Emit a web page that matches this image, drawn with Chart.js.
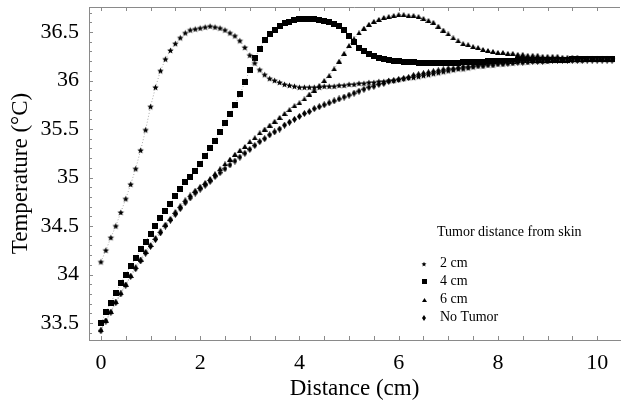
<!DOCTYPE html>
<html><head><meta charset="utf-8">
<script src="https://cdn.jsdelivr.net/npm/chart.js@4/dist/chart.umd.min.js"></script>
<style>html,body{margin:0;padding:0;background:#fff;overflow:hidden}#wrap{position:relative;width:624px;height:403px}</style>
</head><body><div id="wrap"><canvas id="c" width="624" height="403"></canvas></div>
<script>
const distance = [0,0.1,0.2,0.3,0.4,0.5,0.6,0.7,0.8,0.9,1,1.1,1.2,1.3,1.4,1.5,1.6,1.7,1.8,1.9,2,2.1,2.2,2.3,2.4,2.5,2.6,2.7,2.8,2.9,3,3.1,3.2,3.3,3.4,3.5,3.6,3.7,3.8,3.9,4,4.1,4.2,4.3,4.4,4.5,4.6,4.7,4.8,4.9,5,5.1,5.2,5.3,5.4,5.5,5.6,5.7,5.8,5.9,6,6.1,6.2,6.3,6.4,6.5,6.6,6.7,6.8,6.9,7,7.1,7.2,7.3,7.4,7.5,7.6,7.7,7.8,7.9,8,8.1,8.2,8.3,8.4,8.5,8.6,8.7,8.8,8.9,9,9.1,9.2,9.3,9.4,9.5,9.6,9.7,9.8,9.9,10,10.1,10.2,10.3];
const twoCm = [34.13,34.25,34.38,34.50,34.64,34.78,34.93,35.09,35.28,35.49,
35.73,35.93,36.10,36.22,36.31,36.38,36.44,36.49,36.52,36.53,
36.54,36.55,36.56,36.55,36.54,36.52,36.49,36.46,36.41,36.34,
36.26,36.18,36.11,36.06,36.02,36.00,35.98,35.96,35.95,35.94,
35.93,35.93,35.93,35.93,35.93,35.94,35.94,35.94,35.95,35.95,
35.96,35.96,35.97,35.97,35.98,35.98,35.99,35.99,36.00,36.00,
36.01,36.02,36.03,36.03,36.04,36.05,36.06,36.07,36.08,36.09,
36.10,36.11,36.12,36.12,36.13,36.14,36.15,36.15,36.16,36.16,
36.17,36.17,36.18,36.18,36.19,36.19,36.19,36.20,36.20,36.20,
36.20,36.21,36.21,36.21,36.21,36.21,36.21,36.21,36.22,36.22,
36.22,36.22,36.22,36.22];
const fourCm = [33.50,33.61,33.71,33.81,33.91,34.00,34.09,34.17,34.26,34.34,
34.42,34.50,34.58,34.66,34.73,34.81,34.88,34.95,35.01,35.07,
35.14,35.22,35.30,35.38,35.47,35.56,35.65,35.75,35.86,35.98,
36.11,36.23,36.33,36.42,36.48,36.52,36.56,36.59,36.60,36.62,
36.63,36.63,36.63,36.63,36.62,36.61,36.60,36.58,36.56,36.52,
36.46,36.40,36.34,36.30,36.27,36.25,36.23,36.22,36.21,36.20,
36.20,36.19,36.19,36.19,36.18,36.18,36.18,36.18,36.18,36.18,
36.18,36.18,36.18,36.19,36.19,36.19,36.19,36.19,36.20,36.20,
36.20,36.20,36.20,36.20,36.21,36.21,36.21,36.21,36.21,36.21,
36.21,36.21,36.21,36.21,36.21,36.22,36.22,36.22,36.22,36.22,
36.22,36.22,36.22,36.22];
const sixCm = [33.43,33.53,33.62,33.72,33.81,33.90,33.99,34.08,34.16,34.24,
34.31,34.38,34.45,34.52,34.58,34.65,34.71,34.77,34.82,34.87,
34.91,34.95,34.99,35.04,35.09,35.14,35.19,35.24,35.28,35.32,
35.37,35.41,35.46,35.50,35.54,35.58,35.62,35.66,35.70,35.74,
35.77,35.81,35.86,35.90,35.95,36.00,36.05,36.12,36.20,36.28,
36.36,36.43,36.49,36.54,36.58,36.61,36.63,36.65,36.66,36.67,
36.68,36.68,36.67,36.67,36.66,36.64,36.62,36.60,36.56,36.52,
36.48,36.44,36.41,36.38,36.37,36.35,36.34,36.32,36.31,36.30,
36.29,36.29,36.28,36.28,36.27,36.27,36.26,36.26,36.26,36.25,
36.25,36.25,36.25,36.24,36.24,36.24,36.24,36.23,36.23,36.23,
36.23,36.23,36.23,36.23];
const noTumor = [33.42,33.52,33.61,33.71,33.80,33.89,33.98,34.06,34.14,34.22,
34.29,34.36,34.43,34.50,34.56,34.62,34.68,34.74,34.79,34.84,
34.88,34.92,34.96,35.01,35.05,35.09,35.13,35.17,35.21,35.25,
35.29,35.33,35.37,35.40,35.44,35.47,35.50,35.54,35.57,35.60,
35.63,35.66,35.68,35.71,35.73,35.75,35.77,35.79,35.81,35.83,
35.85,35.87,35.89,35.91,35.93,35.94,35.96,35.97,35.99,36.00,
36.01,36.02,36.03,36.05,36.06,36.07,36.08,36.09,36.10,36.11,
36.12,36.12,36.13,36.14,36.14,36.15,36.16,36.16,36.17,36.17,
36.18,36.18,36.18,36.19,36.19,36.19,36.20,36.20,36.20,36.20,
36.21,36.21,36.21,36.21,36.21,36.21,36.21,36.21,36.21,36.21,
36.21,36.21,36.21,36.21];
const seriesLabels = ['2 cm','4 cm','6 cm','No Tumor'];
const legendTitle = 'Tumor distance from skin';
const xTitle = 'Distance (cm)';
const yTitle = 'Temperature (\u00B0C)';

const SERIF = "'Liberation Serif','Times New Roman',serif";
const AXIS = '#8a8a8a';

function mk(w,h,draw){const c=document.createElement('canvas');c.width=w;c.height=h;const g=c.getContext('2d');g.fillStyle='#000';draw(g,w,h);return c;}
function star(R){const s=Math.ceil(2*R)+2;return mk(s,s,(g)=>{g.beginPath();for(let k=0;k<10;k++){const r=k%2?R*0.45:R;const a=-Math.PI/2+k*Math.PI/5;const px=s/2+r*Math.cos(a),py=s/2+r*Math.sin(a)+0.3;k?g.lineTo(px,py):g.moveTo(px,py);}g.closePath();g.fill();});}
function square(s){return mk(s,s,(g)=>g.fillRect(0,0,s,s));}
function tri(w,h){return mk(w,h,(g,W,H)=>{g.beginPath();g.moveTo(W/2,0);g.lineTo(W,H);g.lineTo(0,H);g.closePath();g.fill();});}
function diamond(w,h){return mk(w,h,(g,W,H)=>{g.beginPath();g.moveTo(W/2,0);g.lineTo(W,H/2);g.lineTo(W/2,H);g.lineTo(0,H/2);g.closePath();g.fill();});}

const markers = [star(3.4), square(6), tri(6,5), diamond(5,7)];
const legendMarkers = [star(2.6), square(5), tri(5,4), diamond(4,6)];
const seriesValues = [twoCm, fourCm, sixCm, noTumor];

const datasets = seriesValues.map((vals,k)=>({
  label: seriesLabels[k],
  data: distance.map((d,i)=>({x:d,y:vals[i]})),
  showLine: true,
  borderColor: '#a8a8a8',
  borderWidth: 1,
  borderDash: [1,2],
  pointStyle: markers[k],
  pointRadius: 3,
  pointHoverRadius: 3,
  backgroundColor: '#000'
}));

const isHalf = v => Math.abs(v*2 - Math.round(v*2)) < 1e-6;
const isEvenInt = v => Math.abs(v/2 - Math.round(v/2)) < 1e-6;

const framePlugin = {
  id: 'frame',
  afterDatasetsDraw(chart){
    const ctx = chart.ctx, a = chart.chartArea, xs = chart.scales.x, ys = chart.scales.y;
    ctx.save();
    ctx.strokeStyle = AXIS; ctx.lineWidth = 1;
    ctx.beginPath();
    ctx.moveTo(a.left, a.top + 0.5); ctx.lineTo(a.right, a.top + 0.5);
    xs.ticks.forEach(t=>{const p=Math.round(xs.getPixelForValue(t.value))+0.5;
      ctx.moveTo(p,a.bottom); ctx.lineTo(p,a.bottom-4);
      ctx.moveTo(p,a.top); ctx.lineTo(p,a.top+4);});
    ys.ticks.forEach(t=>{const p=Math.round(ys.getPixelForValue(t.value))+0.5;
      const L = isHalf(t.value)?4:3;
      ctx.moveTo(a.left,p); ctx.lineTo(a.left+L,p);});
    ctx.stroke();
    // legend
    ctx.fillStyle = '#000';
    ctx.font = "14px " + SERIF;
    ctx.textBaseline = 'middle'; ctx.textAlign = 'left';
    ctx.fillText(legendTitle, 437, 232.5);
    const rows = [263.5, 281.5, 299.5, 317.5];
    seriesLabels.forEach((lab,k)=>{
      const m = legendMarkers[k];
      ctx.drawImage(m, Math.round(424 - m.width/2), Math.round(rows[k] - m.height/2));
      ctx.fillText(lab, 440, rows[k]);
    });
    ctx.restore();
  }
};

new Chart(document.getElementById('c'), {
  type: 'scatter',
  data: { datasets },
  plugins: [framePlugin],
  options: {
    responsive: false, animation: false, devicePixelRatio: 1,
    layout: { padding: { top: 7, right: 0, left: 0, bottom: 0 } },
    plugins: { legend: { display: false }, tooltip: { enabled: false } },
    scales: {
      x: {
        type: 'linear', min: -0.24, max: 10.46,
        ticks: { stepSize: 0.5, includeBounds: false, autoSkip: false, maxRotation: 0, maxTicksLimit: 1000, padding: 10,
          color: '#000', font: { family: SERIF, size: 22 },
          callback: v => isEvenInt(v) ? String(Math.round(v)) : '' },
        grid: { display: true, drawOnChartArea: false, drawTicks: false },
        border: { display: true, color: AXIS, width: 1 },
        title: { display: true, text: xTitle, color: '#000', font: { family: SERIF, size: 23 }, padding: { top: 0, bottom: 0 } },
        afterFit(s){ s.height = 63; s.paddingLeft = 0; s.paddingRight = 0; }
      },
      y: {
        type: 'linear', min: 33.325, max: 36.758,
        ticks: { stepSize: 0.1, includeBounds: false, autoSkip: false, maxTicksLimit: 1000, padding: 10,
          color: '#000', font: { family: SERIF, size: 22 },
          callback: v => isHalf(v) ? String(Math.round(v*10)/10) : '' },
        grid: { display: true, drawOnChartArea: false, drawTicks: false },
        border: { display: true, color: AXIS, width: 1 },
        title: { display: true, text: yTitle, color: '#000', font: { family: SERIF, size: 23 }, padding: { top: 7, bottom: 0 } },
        afterFit(s){ s.width = 89; s.paddingTop = 0; s.paddingBottom = 0; }
      }
    }
  }
});
</script></body></html>
